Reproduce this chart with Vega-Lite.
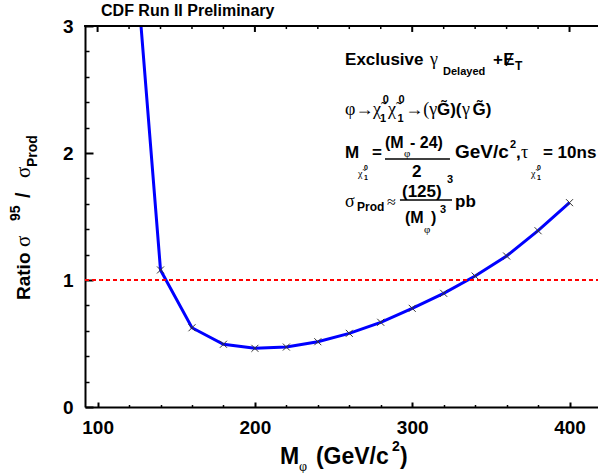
{
  "$schema": "https://vega.github.io/schema/vega-lite/v6.json",
  "width": 513,
  "height": 381,
  "autosize": {"type": "none"},
  "padding": {"left": 85, "top": 26, "right": 0, "bottom": 66},
  "background": "white",
  "config": {"view": {"stroke": null}, "text": {"font": "Liberation Sans", "fontWeight": "bold", "fontSize": 17, "color": "black", "align": "left", "baseline": "alphabetic"}},
  "datasets": {
    "limit": [
      {"mass": 120, "ratio": 4.18},
      {"mass": 140, "ratio": 1.079},
      {"mass": 160, "ratio": 0.624},
      {"mass": 180, "ratio": 0.494},
      {"mass": 200, "ratio": 0.462},
      {"mass": 220, "ratio": 0.472},
      {"mass": 240, "ratio": 0.514},
      {"mass": 260, "ratio": 0.58},
      {"mass": 280, "ratio": 0.667},
      {"mass": 300, "ratio": 0.777},
      {"mass": 320, "ratio": 0.895},
      {"mass": 340, "ratio": 1.031},
      {"mass": 360, "ratio": 1.189},
      {"mass": 380, "ratio": 1.388},
      {"mass": 400, "ratio": 1.609}
    ],
    "majorTicks": [{"t": 100}, {"t": 200}, {"t": 300}, {"t": 400}],
    "minorTicks": [{"t": 120}, {"t": 140}, {"t": 160}, {"t": 180}, {"t": 220}, {"t": 240}, {"t": 260}, {"t": 280}, {"t": 320}, {"t": 340}, {"t": 360}, {"t": 380}],
    "one": [{}]
  },
  "resolve": {"axis": {"x": "independent", "y": "independent"}},
  "layer": [
    {
      "data": {"name": "limit"},
      "mark": {"type": "line", "color": "#0000ff", "strokeWidth": 3, "clip": true},
      "encoding": {
        "x": {"field": "mass", "type": "quantitative", "scale": {"domain": [92, 418.1], "nice": false, "zero": false},
          "axis": {"orient": "bottom", "values": [100, 200, 300, 400], "tickSize": -5, "tickWidth": 2, "tickColor": "black", "labelFont": "Liberation Sans", "labelFontSize": 19, "labelFontWeight": "bold", "labelColor": "black", "labelPadding": 16, "labelFlush": false, "domain": true, "domainWidth": 2, "domainColor": "black", "grid": false, "title": null}},
        "y": {"field": "ratio", "type": "quantitative", "scale": {"domain": [0, 3], "nice": false, "zero": false},
          "axis": {"orient": "left", "values": [0, 1, 2, 3], "tickSize": -8, "tickWidth": 2, "tickColor": "black", "labelFont": "Liberation Sans", "labelFontSize": 19, "labelFontWeight": "bold", "labelColor": "black", "labelPadding": 20, "labelFlush": false, "domain": true, "domainWidth": 2, "domainColor": "black", "grid": false, "title": null}}
      }
    },
    {
      "data": {"name": "limit"},
      "mark": {"type": "point", "shape": "M-1,-1L1,1M-1,1L1,-1", "filled": false, "stroke": "#333333", "strokeWidth": 1, "size": 49, "clip": true, "opacity": 1},
      "encoding": {
        "x": {"field": "mass", "type": "quantitative",
          "axis": {"orient": "bottom", "values": [120, 140, 160, 180, 220, 240, 260, 280, 320, 340, 360, 380], "tickSize": -2.5, "tickWidth": 1.5, "tickColor": "black", "labels": false, "domain": false, "grid": false, "title": null}},
        "y": {"field": "ratio", "type": "quantitative",
          "axis": {"orient": "left", "values": [0.2, 0.4, 0.6, 0.8, 1.2, 1.4, 1.6, 1.8, 2.2, 2.4, 2.6, 2.8], "tickSize": -4, "tickWidth": 1.5, "tickColor": "black", "labels": false, "domain": false, "grid": false, "title": null}}
      }
    },
    {
      "data": {"name": "one"},
      "mark": {"type": "rule", "color": "black", "strokeWidth": 2},
      "encoding": {"x": {"datum": 91.4, "type": "quantitative", "axis": null}, "x2": {"datum": 418.1}, "y": {"datum": 3, "type": "quantitative", "axis": null}}
    },
    {
      "data": {"name": "majorTicks"},
      "mark": {"type": "rule", "color": "black", "strokeWidth": 2},
      "encoding": {"x": {"field": "t", "type": "quantitative", "axis": null}, "y": {"datum": 3, "type": "quantitative", "axis": null}, "y2": {"datum": 2.953}}
    },
    {
      "data": {"name": "minorTicks"},
      "mark": {"type": "rule", "color": "black", "strokeWidth": 1.5},
      "encoding": {"x": {"field": "t", "type": "quantitative", "axis": null}, "y": {"datum": 3, "type": "quantitative", "axis": null}, "y2": {"datum": 2.976}}
    },
    {
      "data": {"name": "one"},
      "mark": {"type": "rule", "color": "#ff0000", "strokeWidth": 2, "strokeDash": [4, 3]},
      "encoding": {
        "x": {"datum": 92, "type": "quantitative", "axis": null},
        "x2": {"datum": 418.1},
        "y": {"datum": 1, "type": "quantitative", "axis": null}
      }
    },
    {"data": {"name": "one"}, "mark": {"type": "text", "text": "CDF Run II Preliminary", "fontSize": 16}, "encoding": {"x": {"datum": 102.2, "type": "quantitative", "axis": null}, "y": {"datum": 3.079, "type": "quantitative", "axis": null}}},
    {"data": {"name": "one"}, "mark": {"type": "text", "text": "M", "fontSize": 23}, "encoding": {"x": {"datum": 215.95, "type": "quantitative", "axis": null}, "y": {"datum": -0.449, "type": "quantitative", "axis": null}}},
    {"data": {"name": "one"}, "mark": {"type": "text", "text": "φ", "fontSize": 14, "font": "Liberation Serif", "fontWeight": "normal"}, "encoding": {"x": {"datum": 228.0, "type": "quantitative", "axis": null}, "y": {"datum": -0.504, "type": "quantitative", "axis": null}}},
    {"data": {"name": "one"}, "mark": {"type": "text", "text": "(GeV/c", "fontSize": 23}, "encoding": {"x": {"datum": 238.8, "type": "quantitative", "axis": null}, "y": {"datum": -0.449, "type": "quantitative", "axis": null}}},
    {"data": {"name": "one"}, "mark": {"type": "text", "text": "2", "fontSize": 14}, "encoding": {"x": {"datum": 287.1, "type": "quantitative", "axis": null}, "y": {"datum": -0.346, "type": "quantitative", "axis": null}}},
    {"data": {"name": "one"}, "mark": {"type": "text", "text": ")", "fontSize": 23}, "encoding": {"x": {"datum": 292.2, "type": "quantitative", "axis": null}, "y": {"datum": -0.449, "type": "quantitative", "axis": null}}},
    {"data": {"name": "one"}, "mark": {"type": "text", "text": "Ratio", "fontSize": 19, "angle": 270}, "encoding": {"x": {"datum": 57.0, "type": "quantitative", "axis": null}, "y": {"datum": 0.8425, "type": "quantitative", "axis": null}}},
    {"data": {"name": "one"}, "mark": {"type": "text", "text": "σ", "fontSize": 21, "angle": 270, "font": "Liberation Serif", "fontWeight": "normal"}, "encoding": {"x": {"datum": 57.0, "type": "quantitative", "axis": null}, "y": {"datum": 1.26, "type": "quantitative", "axis": null}}},
    {"data": {"name": "one"}, "mark": {"type": "text", "text": "95", "fontSize": 14, "angle": 270}, "encoding": {"x": {"datum": 50.7, "type": "quantitative", "axis": null}, "y": {"datum": 1.4646, "type": "quantitative", "axis": null}}},
    {"data": {"name": "one"}, "mark": {"type": "text", "text": "/", "fontSize": 20, "angle": 270}, "encoding": {"x": {"datum": 57.0, "type": "quantitative", "axis": null}, "y": {"datum": 1.6457, "type": "quantitative", "axis": null}}},
    {"data": {"name": "one"}, "mark": {"type": "text", "text": "σ", "fontSize": 21, "angle": 270, "font": "Liberation Serif", "fontWeight": "normal"}, "encoding": {"x": {"datum": 57.0, "type": "quantitative", "axis": null}, "y": {"datum": 1.803, "type": "quantitative", "axis": null}}},
    {"data": {"name": "one"}, "mark": {"type": "text", "text": "Prod", "fontSize": 14, "angle": 270}, "encoding": {"x": {"datum": 61.5, "type": "quantitative", "axis": null}, "y": {"datum": 1.89, "type": "quantitative", "axis": null}}},

    {"data": {"name": "one"}, "mark": {"type": "text", "text": "Exclusive"}, "encoding": {"x": {"datum": 257.3, "type": "quantitative", "axis": null}, "y": {"datum": 2.693, "type": "quantitative", "axis": null}}},
    {"data": {"name": "one"}, "mark": {"type": "text", "text": "γ", "font": "Liberation Serif", "fontWeight": "normal", "fontSize": 18}, "encoding": {"x": {"datum": 311.3, "type": "quantitative", "axis": null}, "y": {"datum": 2.693, "type": "quantitative", "axis": null}}},
    {"data": {"name": "one"}, "mark": {"type": "text", "text": "Delayed", "fontSize": 11}, "encoding": {"x": {"datum": 319.6, "type": "quantitative", "axis": null}, "y": {"datum": 2.614, "type": "quantitative", "axis": null}}},
    {"data": {"name": "one"}, "mark": {"type": "text", "text": "+"}, "encoding": {"x": {"datum": 351.3, "type": "quantitative", "axis": null}, "y": {"datum": 2.693, "type": "quantitative", "axis": null}}},
    {"data": {"name": "one"}, "mark": {"type": "text", "text": "Ɇ"}, "encoding": {"x": {"datum": 357.8, "type": "quantitative", "axis": null}, "y": {"datum": 2.693, "type": "quantitative", "axis": null}}},
    {"data": {"name": "one"}, "mark": {"type": "text", "text": "T", "fontSize": 12}, "encoding": {"x": {"datum": 365.3, "type": "quantitative", "axis": null}, "y": {"datum": 2.654, "type": "quantitative", "axis": null}}},

    {"data": {"name": "one"}, "mark": {"type": "text", "text": "φ→", "font": "Liberation Serif", "fontWeight": "normal", "fontSize": 18}, "encoding": {"x": {"datum": 257.3, "type": "quantitative", "axis": null}, "y": {"datum": 2.299, "type": "quantitative", "axis": null}}},
    {"data": {"name": "one"}, "mark": {"type": "text", "text": "χ̃", "font": "Liberation Serif", "fontWeight": "normal", "fontSize": 18}, "encoding": {"x": {"datum": 275.1, "type": "quantitative", "axis": null}, "y": {"datum": 2.299, "type": "quantitative", "axis": null}}},
    {"data": {"name": "one"}, "mark": {"type": "text", "text": "0", "fontSize": 11}, "encoding": {"x": {"datum": 281.2, "type": "quantitative", "axis": null}, "y": {"datum": 2.394, "type": "quantitative", "axis": null}}},
    {"data": {"name": "one"}, "mark": {"type": "text", "text": "1", "fontSize": 11}, "encoding": {"x": {"datum": 279.5, "type": "quantitative", "axis": null}, "y": {"datum": 2.244, "type": "quantitative", "axis": null}}},
    {"data": {"name": "one"}, "mark": {"type": "text", "text": "χ̃", "font": "Liberation Serif", "fontWeight": "normal", "fontSize": 18}, "encoding": {"x": {"datum": 284.6, "type": "quantitative", "axis": null}, "y": {"datum": 2.299, "type": "quantitative", "axis": null}}},
    {"data": {"name": "one"}, "mark": {"type": "text", "text": "0", "fontSize": 11}, "encoding": {"x": {"datum": 291.3, "type": "quantitative", "axis": null}, "y": {"datum": 2.394, "type": "quantitative", "axis": null}}},
    {"data": {"name": "one"}, "mark": {"type": "text", "text": "1", "fontSize": 11}, "encoding": {"x": {"datum": 290.6, "type": "quantitative", "axis": null}, "y": {"datum": 2.244, "type": "quantitative", "axis": null}}},
    {"data": {"name": "one"}, "mark": {"type": "text", "text": "→(γ", "font": "Liberation Serif", "fontWeight": "normal", "fontSize": 18}, "encoding": {"x": {"datum": 295.6, "type": "quantitative", "axis": null}, "y": {"datum": 2.299, "type": "quantitative", "axis": null}}},
    {"data": {"name": "one"}, "mark": {"type": "text", "text": "G̃)(", "fontSize": 17}, "encoding": {"x": {"datum": 315.7, "type": "quantitative", "axis": null}, "y": {"datum": 2.299, "type": "quantitative", "axis": null}}},
    {"data": {"name": "one"}, "mark": {"type": "text", "text": "γ", "font": "Liberation Serif", "fontWeight": "normal", "fontSize": 18}, "encoding": {"x": {"datum": 331.6, "type": "quantitative", "axis": null}, "y": {"datum": 2.299, "type": "quantitative", "axis": null}}},
    {"data": {"name": "one"}, "mark": {"type": "text", "text": "G̃)", "fontSize": 17}, "encoding": {"x": {"datum": 338.4, "type": "quantitative", "axis": null}, "y": {"datum": 2.299, "type": "quantitative", "axis": null}}},

    {"data": {"name": "one"}, "mark": {"type": "text", "text": "M"}, "encoding": {"x": {"datum": 257.3, "type": "quantitative", "axis": null}, "y": {"datum": 1.961, "type": "quantitative", "axis": null}}},
    {"data": {"name": "one"}, "mark": {"type": "text", "text": "χ̃", "font": "Liberation Serif", "fontWeight": "normal", "fontSize": 10}, "encoding": {"x": {"datum": 265.5, "type": "quantitative", "axis": null}, "y": {"datum": 1.811, "type": "quantitative", "axis": null}}},
    {"data": {"name": "one"}, "mark": {"type": "text", "text": "0", "fontSize": 7}, "encoding": {"x": {"datum": 269.3, "type": "quantitative", "axis": null}, "y": {"datum": 1.866, "type": "quantitative", "axis": null}}},
    {"data": {"name": "one"}, "mark": {"type": "text", "text": "1", "fontSize": 7}, "encoding": {"x": {"datum": 269.3, "type": "quantitative", "axis": null}, "y": {"datum": 1.787, "type": "quantitative", "axis": null}}},
    {"data": {"name": "one"}, "mark": {"type": "text", "text": "="}, "encoding": {"x": {"datum": 274.4, "type": "quantitative", "axis": null}, "y": {"datum": 1.961, "type": "quantitative", "axis": null}}},
    {"data": {"name": "one"}, "mark": {"type": "text", "text": "(M", "fontSize": 16}, "encoding": {"x": {"datum": 282.7, "type": "quantitative", "axis": null}, "y": {"datum": 2.039, "type": "quantitative", "axis": null}}},
    {"data": {"name": "one"}, "mark": {"type": "text", "text": "φ", "font": "Liberation Serif", "fontWeight": "normal", "fontSize": 11}, "encoding": {"x": {"datum": 294.8, "type": "quantitative", "axis": null}, "y": {"datum": 1.966, "type": "quantitative", "axis": null}}},
    {"data": {"name": "one"}, "mark": {"type": "text", "text": "- 24)", "fontSize": 16}, "encoding": {"x": {"datum": 298.6, "type": "quantitative", "axis": null}, "y": {"datum": 2.039, "type": "quantitative", "axis": null}}},
    {"data": {"name": "one"}, "mark": {"type": "rule", "color": "black", "strokeWidth": 1.5}, "encoding": {"x": {"datum": 282.7, "type": "quantitative", "axis": null}, "x2": {"datum": 324.0}, "y": {"datum": 1.953, "type": "quantitative", "axis": null}}},
    {"data": {"name": "one"}, "mark": {"type": "text", "text": "2"}, "encoding": {"x": {"datum": 299.9, "type": "quantitative", "axis": null}, "y": {"datum": 1.811, "type": "quantitative", "axis": null}}},
    {"data": {"name": "one"}, "mark": {"type": "text", "text": "GeV/c", "fontSize": 19}, "encoding": {"x": {"datum": 327.2, "type": "quantitative", "axis": null}, "y": {"datum": 1.961, "type": "quantitative", "axis": null}}},
    {"data": {"name": "one"}, "mark": {"type": "text", "text": "2", "fontSize": 11}, "encoding": {"x": {"datum": 362.2, "type": "quantitative", "axis": null}, "y": {"datum": 2.039, "type": "quantitative", "axis": null}}},
    {"data": {"name": "one"}, "mark": {"type": "text", "text": ","}, "encoding": {"x": {"datum": 366.0, "type": "quantitative", "axis": null}, "y": {"datum": 1.961, "type": "quantitative", "axis": null}}},
    {"data": {"name": "one"}, "mark": {"type": "text", "text": "τ", "font": "Liberation Serif", "fontWeight": "normal", "fontSize": 18}, "encoding": {"x": {"datum": 369.2, "type": "quantitative", "axis": null}, "y": {"datum": 1.961, "type": "quantitative", "axis": null}}},
    {"data": {"name": "one"}, "mark": {"type": "text", "text": "χ̃", "font": "Liberation Serif", "fontWeight": "normal", "fontSize": 10}, "encoding": {"x": {"datum": 375.5, "type": "quantitative", "axis": null}, "y": {"datum": 1.811, "type": "quantitative", "axis": null}}},
    {"data": {"name": "one"}, "mark": {"type": "text", "text": "0", "fontSize": 7}, "encoding": {"x": {"datum": 379.3, "type": "quantitative", "axis": null}, "y": {"datum": 1.866, "type": "quantitative", "axis": null}}},
    {"data": {"name": "one"}, "mark": {"type": "text", "text": "1", "fontSize": 7}, "encoding": {"x": {"datum": 379.3, "type": "quantitative", "axis": null}, "y": {"datum": 1.787, "type": "quantitative", "axis": null}}},
    {"data": {"name": "one"}, "mark": {"type": "text", "text": "= 10ns"}, "encoding": {"x": {"datum": 383.1, "type": "quantitative", "axis": null}, "y": {"datum": 1.961, "type": "quantitative", "axis": null}}},

    {"data": {"name": "one"}, "mark": {"type": "text", "text": "σ", "font": "Liberation Serif", "fontWeight": "normal", "fontSize": 18}, "encoding": {"x": {"datum": 257.3, "type": "quantitative", "axis": null}, "y": {"datum": 1.575, "type": "quantitative", "axis": null}}},
    {"data": {"name": "one"}, "mark": {"type": "text", "text": "Prod", "fontSize": 12}, "encoding": {"x": {"datum": 264.9, "type": "quantitative", "axis": null}, "y": {"datum": 1.543, "type": "quantitative", "axis": null}}},
    {"data": {"name": "one"}, "mark": {"type": "text", "text": "≈", "font": "Liberation Serif", "fontWeight": "normal", "fontSize": 16}, "encoding": {"x": {"datum": 284.0, "type": "quantitative", "axis": null}, "y": {"datum": 1.575, "type": "quantitative", "axis": null}}},
    {"data": {"name": "one"}, "mark": {"type": "text", "text": "(125)"}, "encoding": {"x": {"datum": 293.5, "type": "quantitative", "axis": null}, "y": {"datum": 1.654, "type": "quantitative", "axis": null}}},
    {"data": {"name": "one"}, "mark": {"type": "text", "text": "3", "fontSize": 11}, "encoding": {"x": {"datum": 322.1, "type": "quantitative", "axis": null}, "y": {"datum": 1.764, "type": "quantitative", "axis": null}}},
    {"data": {"name": "one"}, "mark": {"type": "rule", "color": "black", "strokeWidth": 1.5}, "encoding": {"x": {"datum": 292.2, "type": "quantitative", "axis": null}, "x2": {"datum": 325.3}, "y": {"datum": 1.63, "type": "quantitative", "axis": null}}},
    {"data": {"name": "one"}, "mark": {"type": "text", "text": "(M", "fontSize": 16}, "encoding": {"x": {"datum": 295.4, "type": "quantitative", "axis": null}, "y": {"datum": 1.449, "type": "quantitative", "axis": null}}},
    {"data": {"name": "one"}, "mark": {"type": "text", "text": "φ", "font": "Liberation Serif", "fontWeight": "normal", "fontSize": 11}, "encoding": {"x": {"datum": 307.5, "type": "quantitative", "axis": null}, "y": {"datum": 1.37, "type": "quantitative", "axis": null}}},
    {"data": {"name": "one"}, "mark": {"type": "text", "text": ")", "fontSize": 16}, "encoding": {"x": {"datum": 311.9, "type": "quantitative", "axis": null}, "y": {"datum": 1.449, "type": "quantitative", "axis": null}}},
    {"data": {"name": "one"}, "mark": {"type": "text", "text": "3", "fontSize": 11}, "encoding": {"x": {"datum": 317.7, "type": "quantitative", "axis": null}, "y": {"datum": 1.528, "type": "quantitative", "axis": null}}},
    {"data": {"name": "one"}, "mark": {"type": "text", "text": "pb"}, "encoding": {"x": {"datum": 327.2, "type": "quantitative", "axis": null}, "y": {"datum": 1.575, "type": "quantitative", "axis": null}}}
  ]
}
